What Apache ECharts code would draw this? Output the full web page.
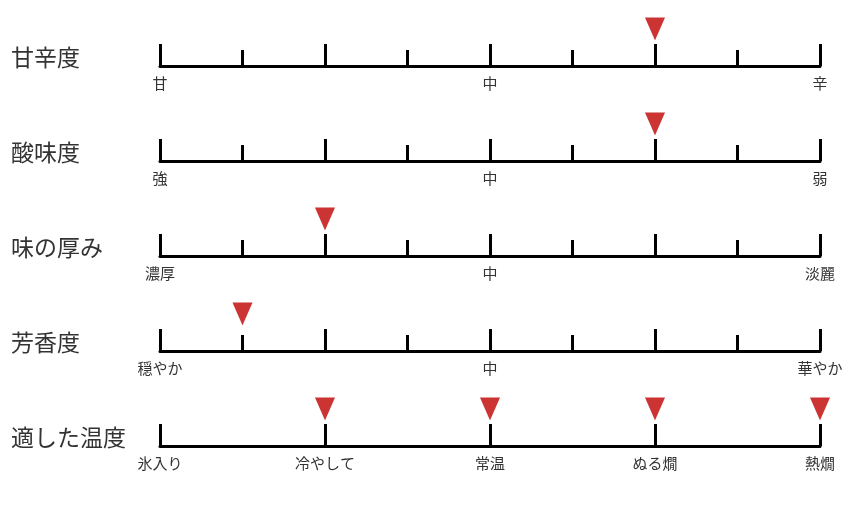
<!DOCTYPE html>
<html>
<head>
<meta charset="utf-8">
<script src="https://cdn.jsdelivr.net/npm/echarts@6/dist/echarts.min.js"></script>
<style>html,body{margin:0;padding:0;background:#fff}#c{width:850px;height:506px}</style>
</head>
<body>
<div id="c"></div>
<script>
const rowTitles = ['甘辛度', '酸味度', '味の厚み', '芳香度', '適した温度'];
const tickLabels = [
  ['甘', '', '中', '', '辛'],
  ['強', '', '中', '', '弱'],
  ['濃厚', '', '中', '', '淡麗'],
  ['穏やか', '', '中', '', '華やか'],
  ['氷入り', '冷やして', '常温', 'ぬる燗', '熱燗']
];
const markerPositions = [[6], [6], [2], [1], [2, 4, 6, 8]];
const showMinor = [true, true, true, true, false];
const scaleMax = 8;

const FONT = '"Noto Sans CJK JP", "Noto Sans", sans-serif';
const axisYs = [66, 161, 256, 351, 446];
const gridH = 40;

const grids = [], xAxes = [], yAxes = [], series = [], titles = [];
rowTitles.forEach((t, i) => {
  grids.push({ left: 160, right: 30, top: axisYs[i] - gridH, height: gridH });
  titles.push({
    text: t, left: 11, top: axisYs[i] - 20, padding: 0,
    textStyle: { fontSize: 23, fontWeight: 'normal', color: '#333', fontFamily: FONT }
  });
  xAxes.push({
    type: 'value', gridIndex: i, min: 0, max: scaleMax, interval: 2,
    axisLine: { show: true, lineStyle: { color: '#000', width: 3 } },
    axisTick: { show: true, inside: true, length: 22, lineStyle: { color: '#000', width: 3 } },
    minorTick: { show: showMinor[i], splitNumber: 2, length: 16, lineStyle: { color: '#000', width: 3 } },
    splitLine: { show: false },
    minorSplitLine: { show: false },
    axisLabel: {
      show: true, margin: 10, fontSize: 15, color: '#333', fontFamily: FONT,
      formatter: v => tickLabels[i][Math.round(v / 2)] || ''
    }
  });
  yAxes.push({ type: 'value', gridIndex: i, min: 0, max: 1, show: false });
  series.push({
    type: 'scatter', xAxisIndex: i, yAxisIndex: i, clip: false,
    symbol: 'triangle', symbolRotate: 180, symbolSize: [20, 23], symbolOffset: [0, -37],
    itemStyle: { color: '#cc3333', opacity: 1 },
    silent: true, animation: false,
    data: markerPositions[i].map(x => [x, 0])
  });
});

const chart = echarts.init(document.getElementById('c'), null, { renderer: 'canvas' });
chart.setOption({
  animation: false,
  title: titles,
  grid: grids,
  xAxis: xAxes,
  yAxis: yAxes,
  series: series
});
</script>
</body>
</html>
